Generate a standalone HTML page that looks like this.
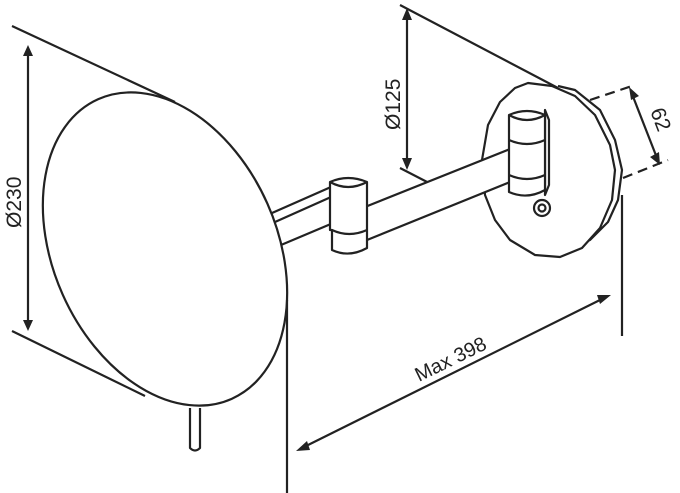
<!DOCTYPE html>
<html><head><style>body{margin:0;background:#fff}svg{display:block}text{font-family:"Liberation Sans",sans-serif;fill:#222}</style></head><body>
<svg width="680" height="493" viewBox="0 0 680 493" stroke="#222" fill="none" stroke-width="2.2" stroke-linejoin="round">
<!-- mirror tangents -->
<line x1="12" y1="26" x2="175" y2="102"/>
<line x1="12" y1="331" x2="145" y2="396"/>
<!-- Ø230 dimension -->
<line x1="28" y1="52" x2="28" y2="324"/>
<path d="M28 45 L23 56 L33 56Z M28 331 L23 320 L33 320Z" fill="#222" stroke="none"/>
<text x="0" y="0" font-size="21" transform="translate(21,228) rotate(-90)" stroke="none">Ø230</text>
<!-- mirror -->
<ellipse cx="165" cy="249" rx="112" ry="164" transform="rotate(-24 165 249)" fill="#fff"/>
<path d="M190 408 L190 448 Q195 453 200 448 L200 408" fill="#fff"/>
<line x1="287" y1="300" x2="287" y2="493"/>
<!-- arm 1 -->
<path d="M272 213 L340 183 M275 222 L340 193 M281 245 L345 218"/>
<!-- Ø125 extension -->
<line x1="400" y1="5" x2="558" y2="88"/>
<line x1="400" y1="168" x2="462" y2="200"/>
<line x1="407" y1="15" x2="407" y2="162"/>
<path d="M407 8 L402 20 L412 20Z M407 170 L402 158 L412 158Z" fill="#222" stroke="none"/>
<text x="0" y="0" font-size="21" transform="translate(400,130) rotate(-90)" stroke="none">Ø125</text>
<!-- back plate -->
<path d="M558 86 L575 90 L600 110 L615 140 L622 170 L618 200 L608 222 L590 240 L565 250" />
<path d="M528 83 L552 86 L575 96 L595 115 L610 145 L615 170 L612 200 L600 228 L582 248 L560 257 L535 255 L510 240 L495 220 L485 195 L482 160 L488 125 L500 102 L515 88Z" fill="#fff"/>
<!-- arm 2 -->
<path d="M365 207 L520 145 L520 178 L367 240" fill="#fff"/>
<!-- knuckle 1 -->
<path d="M330 182 Q348 174 367 182 L367 248 Q349 258 332 250 L332 230 L330 230Z" fill="#fff"/>
<path d="M330 182 Q348 192 367 182 M332 230 Q349 238 367 230"/>
<!-- knuckle 2 -->
<path d="M545 110 L549 120 L549 185 L545 195 Z" fill="#fff"/>
<path d="M509 115 Q527 107 545 115 L545 190 Q527 200 509 192 Z" fill="#fff"/>
<path d="M509 115 Q527 125 545 115 M509 140 Q527 148 545 140 M509 175 Q527 183 545 175"/>
<circle cx="542" cy="208" r="8" fill="#fff"/><circle cx="542" cy="208" r="3.5"/>
<!-- 62 -->
<path d="M590 100 L632 86 M623 178 L668 160" stroke-dasharray="10 6"/>
<line x1="632" y1="94" x2="657" y2="158"/>
<path d="M629 87 L631 100 L639 96Z M660 165 L650 157 L659 152Z" fill="#222" stroke="none"/>
<text x="0" y="0" font-size="21" transform="translate(650,111) rotate(69)" stroke="none">62</text>
<!-- Max 398 -->
<line x1="622" y1="195" x2="622" y2="336"/>
<line x1="302" y1="448" x2="604" y2="298"/>
<path d="M296 451 L307 441 L310 450Z M611 295 L600 304 L597 295Z" fill="#222" stroke="none"/>
<text x="0" y="0" font-size="20" transform="translate(419,382) rotate(-26)" stroke="none">Max 398</text>
</svg>
</body></html>
